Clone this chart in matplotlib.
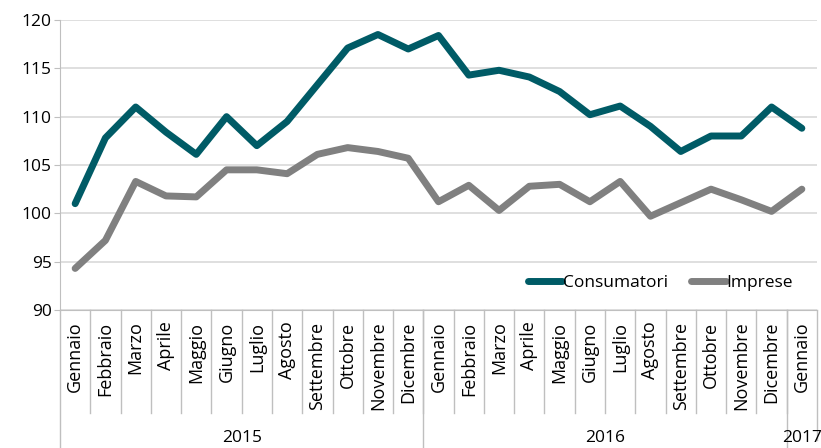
import matplotlib.pyplot as plt
import numpy as np

plt.rcParams['font.family'] = ['Open Sans', 'DejaVu Sans']

mesi = ['Gennaio', 'Febbraio', 'Marzo', 'Aprile', 'Maggio', 'Giugno', 'Luglio',
        'Agosto', 'Settembre', 'Ottobre', 'Novembre', 'Dicembre']
labels = mesi + mesi + ['Gennaio']
anni = ['2015', '2016', '2017']
mesi_per_anno = [12, 12, 1]

consumatori = [101.0, 107.8, 111.0, 108.4, 106.1, 110.0, 107.0, 109.5, 113.3, 117.1, 118.5, 117.0,
               118.4, 114.3, 114.8, 114.1, 112.6, 110.2, 111.1, 109.0, 106.4, 108.0, 108.0, 111.0,
               108.8]
imprese = [94.3, 97.2, 103.3, 101.8, 101.7, 104.5, 104.5, 104.1, 106.1, 106.8, 106.4, 105.7,
           101.2, 102.9, 100.3, 102.8, 103.0, 101.2, 103.3, 99.7, 101.1, 102.5, 101.4, 100.2,
           102.5]

teal = '#005B66'
grigio = '#808080'
linee = '#BFBFBF'
fs = 12.5

fig = plt.figure(figsize=(8.21, 4.48), dpi=100)
ax = fig.add_axes([60 / 821, (448 - 310) / 448, 757 / 821, 290 / 448])

x = np.arange(len(labels))
ax.plot(x, consumatori, color=teal, lw=5, solid_capstyle='round', label='Consumatori')
ax.plot(x, imprese, color=grigio, lw=5, solid_capstyle='round', label='Imprese')

ax.set_xlim(-0.5, len(labels) - 0.5)
ax.set_ylim(90, 120)
ax.set_yticks(range(90, 121, 5))
ax.yaxis.grid(True, color='#D9D9D9', lw=1.2)
ax.set_axisbelow(True)
ax.tick_params(axis='y', length=4, color=linee, pad=2, labelsize=fs)
ax.set_xticks([])
for s in ['top', 'right']:
    ax.spines[s].set_visible(False)
ax.spines['left'].set_color(linee)
ax.spines['bottom'].set_color(linee)

# asse delle categorie a due livelli
tr = ax.get_xaxis_transform()
for i in range(1, len(labels)):
    ax.plot([i - 0.5, i - 0.5], [0, -0.355], transform=tr, color=linee, lw=1, clip_on=False)
for i, lab in enumerate(labels):
    ax.text(i, -0.04, lab, transform=tr, rotation=90, ha='center', va='top', fontsize=13)

start = 0
bordi = [-0.5]
for anno, n in zip(anni, mesi_per_anno):
    ax.text(start + (n - 1) / 2, -0.44, anno, transform=tr, ha='center', va='center', fontsize=fs)
    start += n
    bordi.append(start - 0.5)
for b in bordi:
    fondo = -0.448 if b == bordi[-1] else -0.48
    ax.plot([b, b], [0, fondo], transform=tr, color=linee, lw=1, clip_on=False)

ax.legend(loc='center', bbox_to_anchor=(0.793, 0.093), ncol=2, frameon=False,
          fontsize=fs, handlelength=2.0, handletextpad=0.05, columnspacing=1.3)

fig.savefig('out.png', dpi=100)
